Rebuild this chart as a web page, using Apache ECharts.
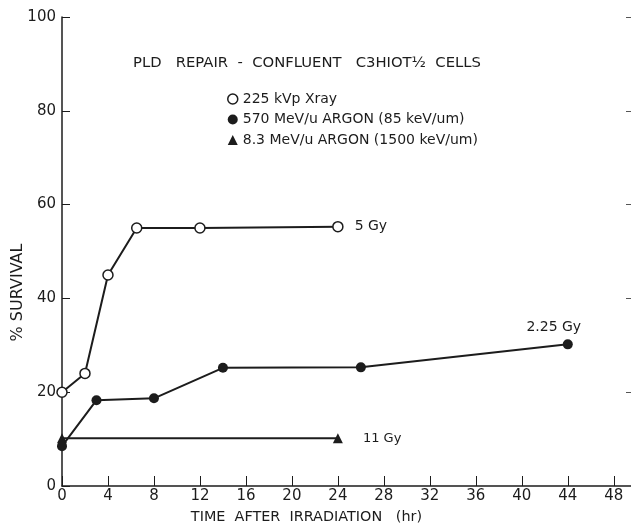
<!DOCTYPE html>
<html>
<head>
<meta charset="utf-8">
<script src="https://cdn.jsdelivr.net/npm/echarts@6/dist/echarts.min.js"></script>
<style>
  html, body { margin: 0; padding: 0; background: #fff; }
  #chart { width: 631px; height: 523px; }
</style>
</head>
<body>
<div id="chart"></div>
<script>
// data
const xrayTime = [0, 2, 4, 6.5, 12, 24];
const xraySurv = [20, 24, 45, 55, 55, 55.3];
const argon570Time = [0, 3, 8, 14, 26, 44];
const argon570Surv = [8.5, 18.3, 18.7, 25.2, 25.3, 30.2];
const argon83Time = [0, 24];
const argon83Surv = [10.2, 10.2];
const xTicks = [0, 4, 8, 12, 16, 20, 24, 28, 32, 36, 40, 44, 48];
const yTicks = [0, 20, 40, 60, 80, 100];

const ink = '#1c1c1c';
const font = 'DejaVu Sans';

function pts (xs, ys, lastLabel) {
  let d = xs.map((x, i) => [x, ys[i]]);
  let n = d.length - 1;
  d[n] = {value: d[n], label: lastLabel};
  return d;
}

let chart = echarts.init(document.getElementById('chart'));
let option = {
  animation: false,
  backgroundColor: '#fff',
  textStyle: {fontFamily: font, color: ink},
  title: {
    text: 'PLD   REPAIR  -  CONFLUENT   C3HIOT½  CELLS',
    left: 128, top: 51,
    textStyle: {fontFamily: font, fontSize: 14.8, fontWeight: 'normal', color: ink}
  },
  legend: {
    orient: 'vertical',
    left: 222, top: 87,
    itemWidth: 10, itemHeight: 10, itemGap: 6.5,
    textStyle: {fontFamily: font, fontSize: 14, color: ink},
    data: [
      {name: '225 kVp Xray', icon: 'circle', itemStyle: {color: '#fff', borderColor: ink, borderWidth: 1.5}},
      {name: '570 MeV/u ARGON (85 keV/um)', icon: 'circle', itemStyle: {color: ink}},
      {name: '8.3 MeV/u ARGON (1500 keV/um)', icon: 'triangle', itemStyle: {color: ink}}
    ]
  },
  grid: {left: 62, right: 0, top: 17, bottom: 37, outerBoundsMode: 'none', containLabel: false},
  xAxis: {
    type: 'value', min: 0, max: 49.5, interval: 4,
    name: 'TIME  AFTER  IRRADIATION   (hr)',
    nameLocation: 'middle', nameGap: 24, nameMoveOverlap: false,
    nameTextStyle: {fontFamily: font, fontSize: 14.4, color: ink, padding: [0, 80, 0, 0]},
    axisLine: {lineStyle: {color: ink, width: 1.5}},
    axisTick: {inside: true, length: 10, lineStyle: {color: ink, width: 1}},
    axisLabel: {margin: 3, fontSize: 15, color: ink, fontFamily: font,
      formatter: v => xTicks.indexOf(v) >= 0 ? String(v) : ''},
    splitLine: {show: false}
  },
  yAxis: [
    {
      type: 'value', min: 0, max: 100, interval: 20,
      name: '% SURVIVAL',
      nameLocation: 'middle', nameGap: 36, nameRotate: 90, nameMoveOverlap: false,
      nameTextStyle: {fontFamily: font, fontSize: 16, color: ink, padding: [0, 82, 0, 0]},
      axisLine: {show: true, lineStyle: {color: ink, width: 1.5}},
      axisTick: {show: true, inside: true, length: 8, lineStyle: {color: ink, width: 1}},
      axisLabel: {margin: 6, fontSize: 15, color: ink, fontFamily: font,
        formatter: v => yTicks.indexOf(v) >= 0 ? String(v) : ''},
      splitLine: {show: false}
    },
    {
      type: 'value', min: 0, max: 100, interval: 20, position: 'right',
      axisLine: {show: false},
      axisTick: {show: true, inside: true, length: 5, lineStyle: {color: '#555', width: 1}},
      axisLabel: {show: false},
      splitLine: {show: false}
    }
  ],
  series: [
    {
      name: '225 kVp Xray', type: 'line',
      symbol: 'circle', symbolSize: 10,
      itemStyle: {color: '#fff', borderColor: ink, borderWidth: 1.5},
      lineStyle: {color: ink, width: 2},
      data: pts(xrayTime, xraySurv, {show: true, position: 'right', distance: 11,
        formatter: '5 Gy', fontSize: 14, color: ink, fontFamily: font}),
      z: 3
    },
    {
      name: '570 MeV/u ARGON (85 keV/um)', type: 'line',
      symbol: 'circle', symbolSize: 10,
      itemStyle: {color: ink},
      lineStyle: {color: ink, width: 2},
      data: pts(argon570Time, argon570Surv, {show: true, position: 'top', distance: 5,
        offset: [-14, 0], formatter: '2.25 Gy', fontSize: 14, color: ink, fontFamily: font}),
      z: 2
    },
    {
      name: '8.3 MeV/u ARGON (1500 keV/um)', type: 'line',
      symbol: 'triangle', symbolSize: 10,
      itemStyle: {color: ink},
      lineStyle: {color: ink, width: 2},
      data: pts(argon83Time, argon83Surv, {show: true, position: 'right', distance: 20,
        formatter: '11 Gy', fontSize: 13, color: ink, fontFamily: font}),
      z: 2
    }
  ]
};
chart.setOption(option);
</script>
</body>
</html>
